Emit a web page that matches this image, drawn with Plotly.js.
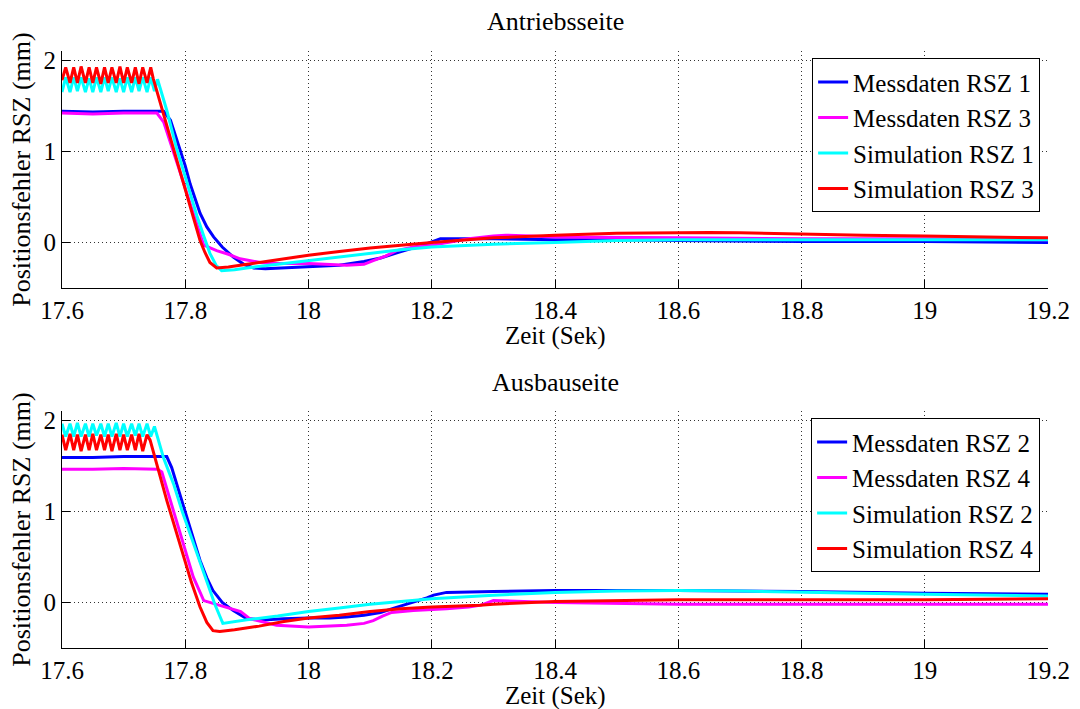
<!DOCTYPE html>
<html>
<head>
<meta charset="utf-8">
<script src="https://cdn.plot.ly/plotly-3.0.1.min.js"></script>
</head>
<body style="margin:0;padding:0;background:#fff;">
<div id="chart" style="width:1080px;height:709px;"></div>
<script>
// ---- shared axis data ----
const xTickVals = [17.6, 17.8, 18.0, 18.2, 18.4, 18.6, 18.8, 19.0, 19.2];
const xTickText = ["17.6", "17.8", "18", "18.2", "18.4", "18.6", "18.8", "19", "19.2"];
const yTickVals = [0, 1, 2];
const yTickText = ["0", "1", "2"];
const panelTitles = ["Antriebsseite", "Ausbauseite"];
const xTitle = "Zeit (Sek)";
const yTitle = "Positionsfehler RSZ (mm)";
const topNames = ["Messdaten RSZ 1", "Messdaten RSZ 3", "Simulation RSZ 1", "Simulation RSZ 3"];
const botNames = ["Messdaten RSZ 2", "Messdaten RSZ 4", "Simulation RSZ 2", "Simulation RSZ 4"];

// time stamps of the oscillating start phase (simulations)
const oscT = [17.600, 17.606, 17.613, 17.619, 17.625, 17.631, 17.638, 17.644, 17.650, 17.656,
              17.663, 17.669, 17.675, 17.681, 17.688, 17.694, 17.700, 17.706, 17.713, 17.719,
              17.725, 17.731, 17.738, 17.744, 17.750];

// ---- Antriebsseite ----
const topMess1T = [17.6, 17.65, 17.7, 17.74, 17.765, 17.776, 17.785, 17.792, 17.8, 17.808, 17.816, 17.824, 17.835, 17.846, 17.86, 17.878, 17.895, 17.911, 17.93, 17.96, 18.0, 18.05, 18.09, 18.117, 18.15, 18.19, 18.214, 18.25, 18.3, 18.4, 18.5, 18.6, 18.8, 19.0, 19.2];
const topMess1Y = [1.44, 1.43, 1.44, 1.44, 1.44, 1.34, 1.15, 1.01, 0.84, 0.64, 0.47, 0.32, 0.17, 0.06, -0.05, -0.16, -0.24, -0.28, -0.29, -0.28, -0.27, -0.25, -0.21, -0.17, -0.10, -0.02, 0.04, 0.04, 0.04, 0.03, 0.03, 0.02, 0.01, 0.01, 0.0];

const topMess3T = [17.6, 17.65, 17.7, 17.754, 17.765, 17.78, 17.795, 17.81, 17.824, 17.83, 17.851, 17.87, 17.889, 17.905, 17.922, 17.95, 18.0, 18.062, 18.09, 18.105, 18.125, 18.143, 18.17, 18.2, 18.224, 18.26, 18.3, 18.32, 18.36, 18.4, 18.6, 18.8, 19.0, 19.2];
const topMess3Y = [1.42, 1.41, 1.42, 1.42, 1.32, 1.02, 0.70, 0.38, 0.08, -0.03, -0.09, -0.13, -0.18, -0.20, -0.22, -0.23, -0.23, -0.25, -0.24, -0.20, -0.15, -0.09, -0.05, -0.03, 0.0, 0.04, 0.07, 0.08, 0.07, 0.06, 0.05, 0.04, 0.04, 0.03];

const topSim1OscY = [1.65, 1.81, 1.65, 1.81, 1.66, 1.81, 1.65, 1.80, 1.65, 1.81, 1.65, 1.81, 1.66, 1.81, 1.65, 1.80, 1.65, 1.81, 1.65, 1.81, 1.66, 1.81, 1.65, 1.81, 1.66];
const topSim1T = [17.755, 17.77, 17.786, 17.80, 17.819, 17.83, 17.84, 17.85, 17.859, 17.88, 17.9, 17.95, 18.0, 18.05, 18.1, 18.15, 18.2, 18.3, 18.4, 18.5, 18.6, 18.8, 19.0, 19.2];
const topSim1Y = [1.79, 1.45, 1.03, 0.72, 0.29, 0.07, -0.12, -0.25, -0.31, -0.30, -0.28, -0.24, -0.20, -0.16, -0.12, -0.08, -0.05, -0.02, 0.0, 0.02, 0.03, 0.03, 0.03, 0.03];

const topSim3OscY = [1.78, 1.92, 1.75, 1.92, 1.75, 1.93, 1.75, 1.92, 1.75, 1.92, 1.74, 1.92, 1.75, 1.92, 1.75, 1.93, 1.75, 1.92, 1.75, 1.92, 1.74, 1.92, 1.75, 1.92];
const topSim3T = [17.748, 17.765, 17.781, 17.795, 17.808, 17.816, 17.824, 17.832, 17.84, 17.851, 17.87, 17.9, 17.95, 18.0, 18.05, 18.1, 18.15, 18.2, 18.3, 18.4, 18.5, 18.6, 18.65, 18.7, 18.8, 18.9, 19.0, 19.1, 19.2];
const topSim3Y = [1.80, 1.40, 1.01, 0.68, 0.39, 0.20, 0.02, -0.11, -0.22, -0.28, -0.27, -0.24, -0.19, -0.14, -0.10, -0.06, -0.03, 0.0, 0.05, 0.08, 0.10, 0.11, 0.11, 0.105, 0.09, 0.08, 0.07, 0.06, 0.05];

// ---- Ausbauseite ----
const botMess2T = [17.6, 17.65, 17.7, 17.77, 17.778, 17.786, 17.795, 17.803, 17.813, 17.824, 17.835, 17.845, 17.86, 17.878, 17.9, 17.932, 17.96, 18.0, 18.035, 18.062, 18.09, 18.117, 18.14, 18.17, 18.192, 18.203, 18.224, 18.3, 18.4, 18.6, 18.8, 19.0, 19.2];
const botMess2Y = [1.59, 1.59, 1.60, 1.60, 1.48, 1.30, 1.12, 0.94, 0.70, 0.46, 0.27, 0.13, 0.0, -0.09, -0.18, -0.19, -0.18, -0.17, -0.17, -0.16, -0.14, -0.11, -0.06, 0.0, 0.05, 0.08, 0.11, 0.12, 0.13, 0.13, 0.12, 0.10, 0.09];

const botMess4T = [17.6, 17.65, 17.7, 17.755, 17.762, 17.776, 17.795, 17.813, 17.83, 17.846, 17.873, 17.89, 17.905, 17.922, 17.948, 18.0, 18.062, 18.09, 18.105, 18.12, 18.135, 18.17, 18.2, 18.224, 18.26, 18.28, 18.3, 18.4, 18.6, 18.8, 19.0, 19.2];
const botMess4Y = [1.46, 1.46, 1.47, 1.46, 1.43, 1.12, 0.68, 0.28, 0.02, -0.01, -0.06, -0.10, -0.18, -0.21, -0.25, -0.27, -0.25, -0.23, -0.20, -0.15, -0.11, -0.09, -0.08, -0.07, -0.05, -0.03, 0.02, 0.0, -0.02, -0.02, -0.02, -0.02];

const botSim2OscY = [1.96, 1.82, 1.96, 1.82, 1.97, 1.82, 1.96, 1.82, 1.96, 1.83, 1.96, 1.82, 1.96, 1.82, 1.97, 1.82, 1.96, 1.82, 1.96, 1.83, 1.96, 1.82, 1.96, 1.82, 1.93];
const botSim2T = [17.765, 17.781, 17.795, 17.808, 17.82, 17.835, 17.848, 17.861, 17.88, 17.9, 17.95, 18.0, 18.05, 18.1, 18.15, 18.2, 18.3, 18.4, 18.5, 18.6, 18.7, 18.8, 18.9, 19.0, 19.1, 19.2];
const botSim2Y = [1.58, 1.30, 1.00, 0.75, 0.52, 0.22, -0.02, -0.23, -0.21, -0.19, -0.15, -0.10, -0.06, -0.02, 0.01, 0.04, 0.08, 0.11, 0.125, 0.13, 0.125, 0.11, 0.10, 0.09, 0.08, 0.07];

const botSim4OscY = [1.84, 1.67, 1.85, 1.67, 1.84, 1.66, 1.84, 1.67, 1.85, 1.67, 1.84, 1.67, 1.84, 1.66, 1.85, 1.67, 1.84, 1.67, 1.84, 1.67, 1.85, 1.66, 1.84];
const botSim4T = [17.743, 17.77, 17.797, 17.81, 17.824, 17.835, 17.845, 17.856, 17.88, 17.92, 17.96, 18.0, 18.05, 18.1, 18.15, 18.2, 18.278, 18.3, 18.4, 18.5, 18.6, 18.8, 19.0, 19.2];
const botSim4Y = [1.78, 1.12, 0.50, 0.22, -0.05, -0.22, -0.31, -0.32, -0.30, -0.26, -0.21, -0.17, -0.14, -0.10, -0.07, -0.05, -0.03, -0.02, 0.01, 0.02, 0.03, 0.03, 0.03, 0.04];

const colors = ["rgb(0,0,255)", "rgb(255,0,255)", "rgb(0,255,255)", "rgb(255,0,0)"];

function osc(oscY, t, y) {
  return { x: oscT.slice(0, oscY.length).concat(t), y: oscY.concat(y) };
}

const SERIF = "Liberation Serif";
function fnt(sz) { return { family: SERIF, size: sz, color: "#000" }; }
function mk(name, xs, ys, color, xa, ya, leg) {
  return { type: "scatter", mode: "lines", name: name, x: xs, y: ys, xaxis: xa, yaxis: ya,
           legend: leg, line: { color: color, width: 3 } };
}
const tS1 = osc(topSim1OscY, topSim1T, topSim1Y);
const tS3 = osc(topSim3OscY, topSim3T, topSim3Y);
const bS2 = osc(botSim2OscY, botSim2T, botSim2Y);
const bS4 = osc(botSim4OscY, botSim4T, botSim4Y);

const data = [
  mk(topNames[0], topMess1T, topMess1Y, colors[0], "x", "y", "legend"),
  mk(topNames[1], topMess3T, topMess3Y, colors[1], "x", "y", "legend"),
  mk(topNames[2], tS1.x, tS1.y, colors[2], "x", "y", "legend"),
  mk(topNames[3], tS3.x, tS3.y, colors[3], "x", "y", "legend"),
  mk(botNames[0], botMess2T, botMess2Y, colors[0], "x2", "y2", "legend2"),
  mk(botNames[1], botMess4T, botMess4Y, colors[1], "x2", "y2", "legend2"),
  mk(botNames[2], bS2.x, bS2.y, colors[2], "x2", "y2", "legend2"),
  mk(botNames[3], bS4.x, bS4.y, colors[3], "x2", "y2", "legend2")
];

function xax(anchor) {
  return { anchor: anchor, range: [17.6, 19.2], tickvals: xTickVals, ticktext: xTickText,
    ticks: "inside", ticklen: 8, tickwidth: 1, tickcolor: "#000",
    showline: true, linecolor: "#000", linewidth: 1, mirror: false,
    showgrid: true, gridcolor: "#333", gridwidth: 1, griddash: "1px,3px", zeroline: false,
    tickfont: fnt(25) };
}
function yax(anchor, dom) {
  return { anchor: anchor, domain: dom, range: [-0.5, 2.1], tickvals: yTickVals, ticktext: yTickText,
    ticks: "inside", ticklen: 8, tickwidth: 1, tickcolor: "#000",
    showline: true, linecolor: "#000", linewidth: 1, mirror: false,
    showgrid: true, gridcolor: "#333", gridwidth: 1, griddash: "1px,3px", zeroline: false,
    tickfont: fnt(25),
    title: { text: yTitle, font: fnt(26), standoff: 5 } };
}
function leg(yPos) {
  return { bgcolor: "#fff", bordercolor: "#000", borderwidth: 1, font: fnt(25),
    xanchor: "right", yanchor: "top", x: 0.992, y: yPos, tracegroupgap: 0 };
}
function note(text, yPos, sz) {
  return { text: text, xref: "paper", yref: "paper", x: 0.5, y: yPos, xanchor: "center", yanchor: "middle",
    showarrow: false, font: fnt(sz) };
}

const layout = {
  width: 1080, height: 709,
  margin: { l: 62, r: 32, t: 51, b: 61 },
  paper_bgcolor: "#fff", plot_bgcolor: "#fff",
  font: fnt(26),
  xaxis: xax("y"),
  yaxis: yax("x", [0.603, 1]),
  xaxis2: xax("y2"),
  yaxis2: yax("x2", [0, 0.397]),
  legend: leg(0.988),
  legend2: leg(0.385),
  annotations: [
    note(panelTitles[0], 1.0486, 26),
    note(panelTitles[1], 0.4439, 26),
    note(xTitle, 0.5226, 25),
    note(xTitle, -0.0804, 25)
  ]
};

Plotly.newPlot("chart", data, layout, { displayModeBar: false });
</script>
</body>
</html>
